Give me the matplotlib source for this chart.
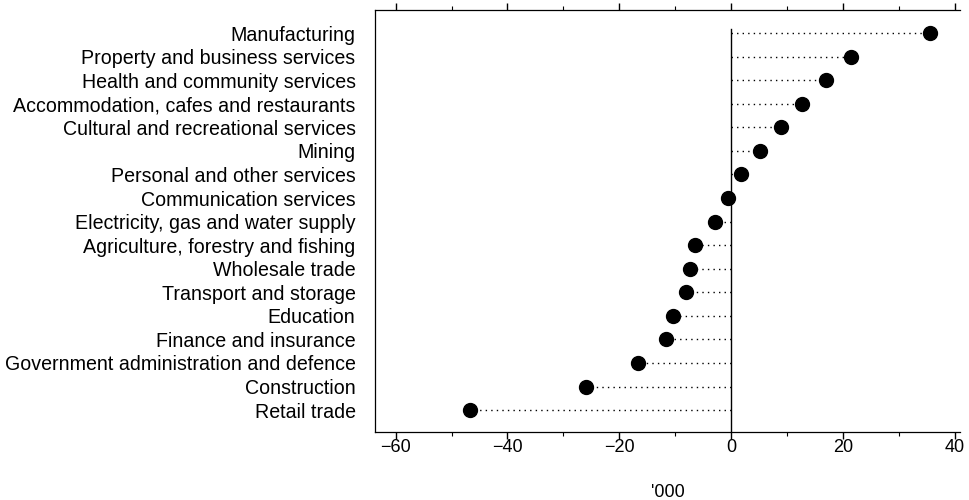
import matplotlib
matplotlib.use("Agg")
import matplotlib.pyplot as plt
from matplotlib.ticker import MultipleLocator

categories = [
    "Manufacturing",
    "Property and business services",
    "Health and community services",
    "Accommodation, cafes and restaurants",
    "Cultural and recreational services",
    "Mining",
    "Personal and other services",
    "Communication services",
    "Electricity, gas and water supply",
    "Agriculture, forestry and fishing",
    "Wholesale trade",
    "Transport and storage",
    "Education",
    "Finance and insurance",
    "Government administration and defence",
    "Construction",
    "Retail trade",
]
values = [35.5, 21.5, 17.0, 12.6, 9.0, 5.2, 1.8, -0.5, -2.9, -6.5, -7.4,
          -8.1, -10.4, -11.7, -16.7, -25.9, -46.7]
xticks = [-60, -40, -20, 0, 20, 40]
xlabel = "'000"

plt.rcParams["font.family"] = ["Liberation Sans", "DejaVu Sans"]

fig = plt.figure(figsize=(9.69, 5.0), dpi=100)
ax = fig.add_axes([0.387, 0.136, 0.604, 0.844])

n = len(categories)
ypos = list(range(n - 1, -1, -1))

for y, v in zip(ypos, values):
    ax.plot([0, v], [y, y], linestyle=(0, (1, 3)), color="black", linewidth=1.0)
ax.plot(values, ypos, "o", color="black", markersize=10, zorder=3)

ax.axvline(0, ymin=(0 - (-0.93)) / (16.98 + 0.93) - 0.05,
           ymax=(16 + 0.93) / (16.98 + 0.93) + 0.01, color="black", linewidth=1.0)

ax.set_xlim(-63.7, 41)
ax.set_ylim(-0.93, 16.98)
ax.set_yticks(ypos)
ax.set_yticklabels(categories, fontsize=14.1)
ax.tick_params(axis="y", length=0, pad=14)
ax.set_xticks(xticks)
ax.xaxis.set_minor_locator(MultipleLocator(10))
ax.tick_params(axis="x", which="major", length=5, width=1, labelsize=13, direction="out",
               pad=0, top=True)
ax.tick_params(axis="x", which="minor", length=3, width=0.8, direction="out", top=True)
ax.set_xlabel(xlabel, fontsize=13, labelpad=20)

for s in ["left", "bottom", "top"]:
    ax.spines[s].set_linewidth(0.9)
ax.spines["right"].set_visible(False)

fig.savefig("out.png", dpi=100)
